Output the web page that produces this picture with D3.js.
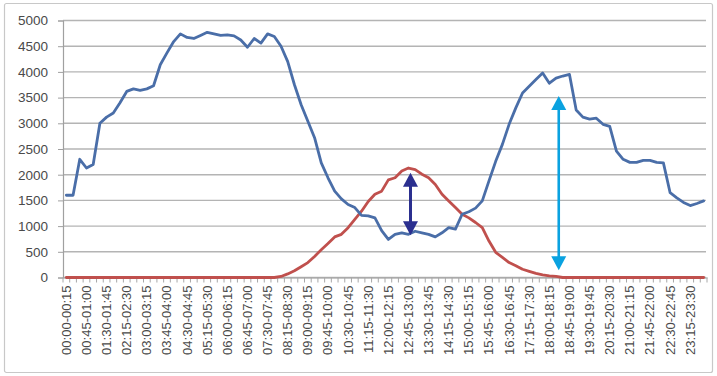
<!DOCTYPE html>
<html>
<head>
<meta charset="utf-8">
<script src="https://cdn.jsdelivr.net/npm/d3@7"></script>
<style>
  html, body { margin: 0; padding: 0; background: #fff; }
  svg { display: block; }
  text { font-family: "Liberation Sans", Arial, sans-serif; }
</style>
</head>
<body>
<svg id="chart" width="717" height="376"></svg>
<script>
const categories = [
"00:00-00:15","00:15-00:30","00:30-00:45","00:45-01:00","01:00-01:15","01:15-01:30","01:30-01:45","01:45-02:00",
"02:00-02:15","02:15-02:30","02:30-02:45","02:45-03:00","03:00-03:15","03:15-03:30","03:30-03:45","03:45-04:00",
"04:00-04:15","04:15-04:30","04:30-04:45","04:45-05:00","05:00-05:15","05:15-05:30","05:30-05:45","05:45-06:00",
"06:00-06:15","06:15-06:30","06:30-06:45","06:45-07:00","07:00-07:15","07:15-07:30","07:30-07:45","07:45-08:00",
"08:00-08:15","08:15-08:30","08:30-08:45","08:45-09:00","09:00-09:15","09:15-09:30","09:30-09:45","09:45-10:00",
"10:00-10:15","10:15-10:30","10:30-10:45","10:45-11:00","11:00-11:15","11:15-11:30","11:30-11:45","11:45-12:00",
"12:00-12:15","12:15-12:30","12:30-12:45","12:45-13:00","13:00-13:15","13:15-13:30","13:30-13:45","13:45-14:00",
"14:00-14:15","14:15-14:30","14:30-14:45","14:45-15:00","15:00-15:15","15:15-15:30","15:30-15:45","15:45-16:00",
"16:00-16:15","16:15-16:30","16:30-16:45","16:45-17:00","17:00-17:15","17:15-17:30","17:30-17:45","17:45-18:00",
"18:00-18:15","18:15-18:30","18:30-18:45","18:45-19:00","19:00-19:15","19:15-19:30","19:30-19:45","19:45-20:00",
"20:00-20:15","20:15-20:30","20:30-20:45","20:45-21:00","21:00-21:15","21:15-21:30","21:30-21:45","21:45-22:00",
"22:00-22:15","22:15-22:30","22:30-22:45","22:45-23:00","23:00-23:15","23:15-23:30","23:30-23:45","23:45-24:00"
];

const demand = [
1600,1600,2300,2130,2200,3000,3120,3200,3400,3620,3670,3640,3670,3730,4140,4370,
4590,4740,4670,4650,4710,4770,4740,4710,4720,4700,4620,4480,4650,4560,4740,4690,
4500,4200,3750,3360,3040,2720,2230,1940,1680,1530,1420,1360,1210,1200,1160,910,
740,840,870,840,900,870,840,790,870,970,940,1230,1280,1350,1490,1880,
2260,2590,2980,3300,3590,3720,3850,3980,3780,3880,3920,3950,3260,3120,3080,3100,
2980,2940,2460,2300,2240,2240,2280,2280,2240,2230,1650,1550,1460,1400,1440,1490
];

const solar = [
0,0,0,0,0,0,0,0,0,0,0,0,0,0,0,0,
0,0,0,0,0,0,0,0,0,0,0,0,0,0,0,0,
20,70,130,210,290,410,540,660,790,840,970,1130,1290,1480,1620,1680,
1900,1940,2070,2130,2100,2010,1940,1810,1620,1490,1360,1230,1160,1070,970,710,
490,390,290,230,160,120,80,50,30,20,0,0,0,0,0,0,
0,0,0,0,0,0,0,0,0,0,0,0,0,0,0,0
];

const yTicks = [0,500,1000,1500,2000,2500,3000,3500,4000,4500,5000];
const xTickLabels = categories.filter((d, i) => i % 3 === 0);

// annotation arrows: fractional category index, value at top tip, value at bottom tip
const arrowPos = [51.3, 73.4];
const arrowTop = [2040, 3530];
const arrowBottom = [820, 140];
const arrowColors = ["#2B2F8F", "#0AA2E0"];

const svg = d3.select("#chart");
const W = 717, H = 376;

// outer frame
svg.append("rect").attr("x", 4.5).attr("y", 3.5).attr("width", 708).attr("height", 369)
  .attr("fill", "#fff").attr("stroke", "#C8C8C8").attr("stroke-width", 1.2).attr("rx", 2);

const x = d3.scaleBand().domain(categories).range([63, 707]).padding(0);
const y = d3.scaleLinear().domain([0, 5000]).range([277.5, 20.5]);
const cx = d => x(d) + x.bandwidth() / 2;

// gridlines
svg.append("g").selectAll("line").data(yTicks).join("line")
  .attr("x1", 63).attr("x2", 706)
  .attr("y1", d => y(d)).attr("y2", d => y(d))
  .attr("stroke", "#B4B4B4").attr("stroke-width", 1.4);

// y axis
const yAxis = svg.append("g").attr("transform", "translate(63,0)")
  .call(d3.axisLeft(y).tickValues(yTicks).tickSize(5).tickPadding(10).tickFormat(d3.format("d")));
yAxis.select(".domain").attr("stroke", "#A0A0A0").attr("stroke-width", 1.2);
yAxis.selectAll(".tick line").attr("stroke", "#A0A0A0");
yAxis.selectAll("text").attr("fill", "#4A4A4A").style("font-size", "13.5px");

// x axis
const xAxis = svg.append("g").attr("transform", `translate(0,${y(0)})`)
  .call(d3.axisBottom(x).tickValues([]).tickSize(0));
xAxis.select(".domain").attr("stroke", "#A0A0A0");
// category boundary ticks
svg.append("g").selectAll("line").data(categories).join("line")
  .attr("x1", d => x(d)).attr("x2", d => x(d))
  .attr("y1", y(0)).attr("y2", y(0) + 5)
  .attr("stroke", "#A8A8A8").attr("stroke-width", 1);
svg.append("line").attr("x1", 707).attr("x2", 707).attr("y1", y(0)).attr("y2", y(0) + 5)
  .attr("stroke", "#A8A8A8");

// x labels
svg.append("g").selectAll("text").data(xTickLabels).join("text")
  .attr("transform", d => `translate(${cx(d) + 4.5},${y(0) + 8}) rotate(-90)`)
  .attr("text-anchor", "end")
  .attr("fill", "#4A4A4A")
  .style("font-size", "13px")
  .text(d => d);

// lines
const line = d3.line().x((d, i) => cx(categories[i])).y(d => y(d));
svg.append("path").datum(solar).attr("d", line)
  .attr("fill", "none").attr("stroke", "#C0504D").attr("stroke-width", 2.8)
  .attr("stroke-linejoin", "round").attr("stroke-linecap", "round");
svg.append("path").datum(demand).attr("d", line)
  .attr("fill", "none").attr("stroke", "#4A6EA8").attr("stroke-width", 2.8)
  .attr("stroke-linejoin", "round").attr("stroke-linecap", "round");

// arrows
arrowPos.forEach((p, k) => {
  const i = Math.floor(p);
  const ax = x(categories[i]) + x.bandwidth() * (0.5 + (p - i));
  const yt = y(arrowTop[k]), yb = y(arrowBottom[k]);
  const hl = 14, hw = 7.5;
  const g = svg.append("g").attr("fill", arrowColors[k]);
  g.append("line").attr("x1", ax).attr("x2", ax).attr("y1", yt + hl - 1).attr("y2", yb - hl + 1)
    .attr("stroke", arrowColors[k]).attr("stroke-width", k === 0 ? 3 : 2.6);
  g.append("path").attr("d", `M${ax},${yt} L${ax - hw},${yt + hl} L${ax + hw},${yt + hl} Z`);
  g.append("path").attr("d", `M${ax},${yb} L${ax - hw},${yb - hl} L${ax + hw},${yb - hl} Z`);
});
</script>
</body>
</html>
